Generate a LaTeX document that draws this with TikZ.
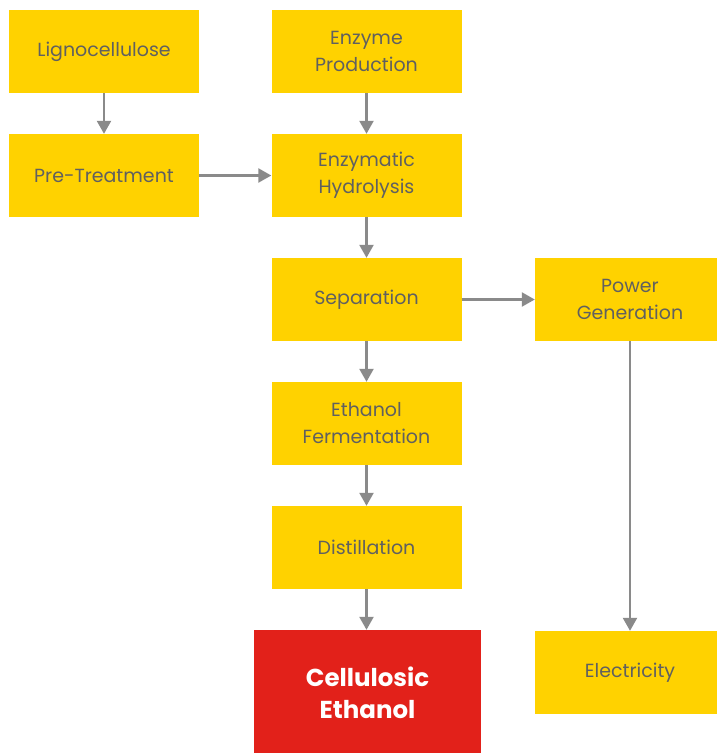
\documentclass[tikz,border=0pt]{standalone}
\usepackage{fontspec}
\setmainfont{Poppins}
\definecolor{shellyellow}{RGB}{255, 210, 0}
\definecolor{shellred}{RGB}{226, 33, 26}
\definecolor{textgrey}{RGB}{96, 96, 96}
\definecolor{arrowgrey}{RGB}{138, 138, 138}
\usetikzlibrary{positioning,arrows.meta}

\begin{document}
\begin{tikzpicture}[x=1pt,y=-1pt,
    stepbox/.style={fill=shellyellow,minimum width=190pt,minimum height=83pt,inner sep=0pt,
        text=textgrey,align=center,font=\fontsize{19}{27}\selectfont},
    outbox/.style={fill=shellred,minimum width=227pt,minimum height=126pt,inner sep=0pt,
        text=white,align=center,font=\fontsize{24.5}{32}\selectfont\bfseries},
    flow/.style={-{Triangle[width=14pt,length=13pt]},line width=2.4pt,arrowgrey}]
    \useasboundingbox (0,0) rectangle (716,753);
    \node[stepbox] (ligno) at (104,51.5) {Lignocellulose};
    \node[stepbox] (enzprod) at (366.5,51.5) {Enzyme\\Production};
    \node[stepbox] (pretreat) at (104,175.5) {Pre-Treatment};
    \node[stepbox] (hydro) at (366.5,175.5) {Enzymatic\\Hydrolysis};
    \node[stepbox] (sep) at (366.5,299.5) {Separation};
    \node[stepbox] (power) at (630,299.5) {Power\\Generation};
    \node[stepbox] (ferm) at (366.5,423.5) {Ethanol\\Fermentation};
    \node[stepbox] (dist) at (366.5,547.5) {Distillation};
    \node[outbox] (ethanol) at (367.5,693) {Cellulosic\\Ethanol};
    \node[stepbox] (elec) at (630,672.5) {Electricity};
    % arrows
    \draw[flow] (ligno) -- (pretreat);
    \draw[flow] (pretreat) -- (hydro);
    \draw[flow] (enzprod) -- (hydro);
    \draw[flow] (hydro) -- (sep);
    \draw[flow] (sep) -- (power);
    \draw[flow] (sep) -- (ferm);
    \draw[flow] (ferm) -- (dist);
    \draw[flow] (dist) -- (dist|-ethanol.north);
    \draw[flow] (power) -- (elec);
\end{tikzpicture}
\end{document}
